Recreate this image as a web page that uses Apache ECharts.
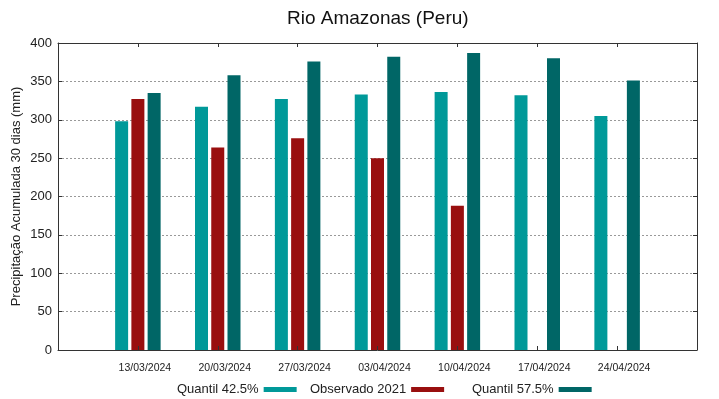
<!DOCTYPE html>
<html>
<head>
<meta charset="utf-8">
<script src="https://cdn.jsdelivr.net/npm/echarts@6/dist/echarts.min.js"></script>
<style>html,body{margin:0;padding:0;background:#fff}#c{width:719px;height:399px}</style>
</head>
<body>
<div id="c"></div>
<script>
var categories = ['13/03/2024','20/03/2024','27/03/2024','03/04/2024','10/04/2024','17/04/2024','24/04/2024'];
var q425 = [298, 317, 327, 333, 336, 332, 305];
var obs2021 = [327, 264, 276, 250, 188, null, null];
var q575 = [335, 358, 376, 382, 387, 380, 351];
var yTicks = [0, 50, 100, 150, 200, 250, 300, 350, 400];

var FONT = 'Liberation Sans, Arial, sans-serif';
function pad(a){ return [null].concat(a, [null]); }
var cats = [''].concat(categories, ['']);

var chart = echarts.init(document.getElementById('c'), null, {renderer:'canvas'});
var axisLine = {show:true, onZero:false, lineStyle:{color:'#333', width:1}};
var tick = {show:true, inside:true, length:4, lineStyle:{color:'#333'}};
var legendBase = {top: 378, orient:'horizontal', align:'right', icon:'rect', itemWidth:33, itemHeight:5,
  textStyle:{fontFamily:FONT, fontSize:13, color:'#222'}, itemGap:0};
chart.setOption({
  animation:false,
  backgroundColor:'#fff',
  title:{text:'Rio Amazonas (Peru)', left:282, top:4,
    textStyle:{fontFamily:FONT, fontSize:19, fontWeight:'normal', color:'#111'}},
  legend:[
    Object.assign({}, legendBase, {left:172, data:['Quantil 42.5%']}),
    Object.assign({}, legendBase, {left:305, data:['Observado 2021']}),
    Object.assign({}, legendBase, {left:467, data:['Quantil 57.5%']})
  ],
  grid:{left:58, right:22, top:43, bottom:49, outerBoundsMode:'none', containLabel:false},
  xAxis:[
    {type:'category', data:cats, boundaryGap:false, position:'bottom', z:5,
     axisLine:axisLine, axisTick:tick,
     axisLabel:{interval:0, fontFamily:FONT, fontSize:10.5, color:'#222', margin:13, padding:[0,0,0,14]},
     splitLine:{show:false}},
    {type:'category', data:cats, boundaryGap:false, position:'top', z:5,
     axisLine:axisLine, axisTick:tick,
     axisLabel:{show:false}, splitLine:{show:false}}
  ],
  yAxis:[
    {type:'value', min:yTicks[0], max:yTicks[yTicks.length-1], interval:50, position:'left',
     name:'Precipitação Acumulada 30 dias (mm)', nameLocation:'middle', nameGap:35, nameMoveOverlap:false,
     nameTextStyle:{fontFamily:FONT, fontSize:13, color:'#222'},
     axisLine:axisLine, axisTick:tick,
     axisLabel:{fontFamily:FONT, fontSize:13, color:'#222', margin:6},
     splitLine:{show:true, lineStyle:{color:'#999', type:[2,2], width:1}}},
    {type:'value', min:yTicks[0], max:yTicks[yTicks.length-1], interval:50, position:'right', z:5,
     axisLine:axisLine, axisTick:tick,
     axisLabel:{show:false}, splitLine:{show:false}}
  ],
  series:[
    {name:'Quantil 42.5%', type:'bar', data:pad(q425), barWidth:13, barGap:'25%', itemStyle:{color:'#009999'}},
    {name:'Observado 2021', type:'bar', data:pad(obs2021), barWidth:13, barGap:'25%', itemStyle:{color:'#990f0f'}},
    {name:'Quantil 57.5%', type:'bar', data:pad(q575), barWidth:13, barGap:'25%', itemStyle:{color:'#006666'}}
  ]
});
</script>
</body>
</html>
